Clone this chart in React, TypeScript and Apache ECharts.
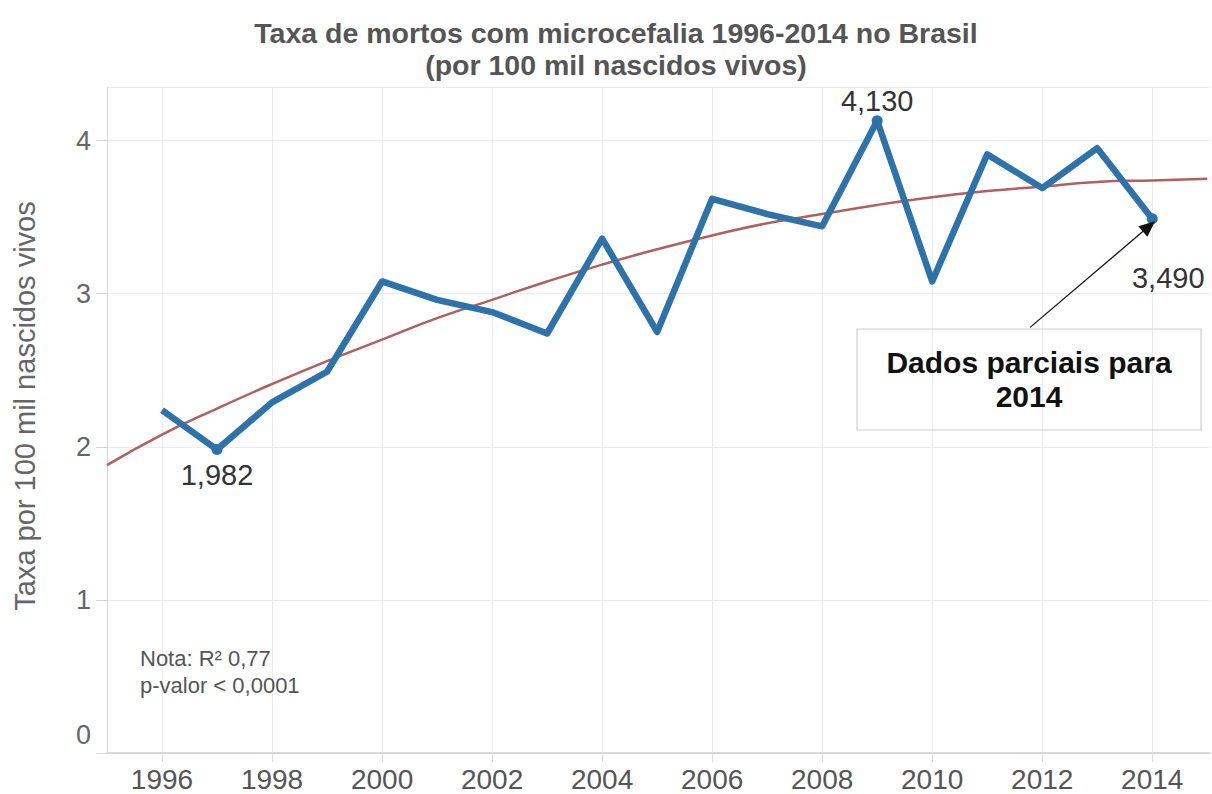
import React, { useEffect, useRef } from "react";
import * as echarts from "echarts";

const years = [1996, 1997, 1998, 1999, 2000, 2001, 2002, 2003, 2004, 2005, 2006, 2007, 2008, 2009, 2010, 2011, 2012, 2013, 2014];
const rates = [2.24, 1.982, 2.29, 2.49, 3.08, 2.96, 2.88, 2.74, 3.36, 2.75, 3.62, 3.52, 3.44, 4.13, 3.08, 3.91, 3.69, 3.95, 3.49];
const labeledYears = [1997, 2009, 2014];

const trendYears = [1995, 1996, 1997, 1998, 1999, 2000, 2001, 2002, 2003, 2004, 2005, 2006, 2007, 2008, 2009, 2010, 2011, 2012, 2013, 2014, 2015];
const trendValues = [1.88, 2.08, 2.25, 2.41, 2.56, 2.70, 2.84, 2.96, 3.08, 3.19, 3.29, 3.38, 3.46, 3.52, 3.58, 3.63, 3.67, 3.70, 3.73, 3.74, 3.75];

const xTickLabels = [1996, 1998, 2000, 2002, 2004, 2006, 2008, 2010, 2012, 2014];

const titleText = "Taxa de mortos com microcefalia 1996-2014 no Brasil\n(por 100 mil nascidos vivos)";
const yAxisName = "Taxa por 100 mil nascidos vivos";
const noteText = "Nota: R\u00b2 0,77\np-valor < 0,0001";
const annotationText = "Dados parciais para\n2014";
const arrowFrom = [2011.78, 2.78];
const arrowTo = [2013.94, 3.44];

const FONT = "Arial, 'Liberation Sans', sans-serif";

export default function App() {
  const ref = useRef<HTMLDivElement>(null);
  useEffect(() => {
    if (!ref.current) return;
    const chart = echarts.init(ref.current, undefined, { renderer: "svg" });
    const labelCfg: Record<number, any> = {
      1997: { position: "bottom", distance: 5, offset: [0, 0] },
      2009: { position: "top", distance: 0, offset: [0, 0] },
      2014: { position: "bottom", distance: 39, offset: [16, 0] },
    };
    const mainData = years.map((y, i) => {
      if (labeledYears.indexOf(y) >= 0) {
        const c = labelCfg[y];
        return {
          value: [y, rates[i]],
          symbol: "circle",
          symbolSize: 11,
          label: {
            show: true,
            position: c.position,
            distance: c.distance,
            offset: c.offset,
            formatter: rates[i].toFixed(3).replace(".", ","),
            fontSize: 29,
            fontFamily: FONT,
            color: "#333",
          },
        };
      }
      return { value: [y, rates[i]], symbol: "none" };
    });
    chart.setOption({
      animation: false,
      backgroundColor: "#fff",
      textStyle: { fontFamily: FONT },
      title: {
        text: titleText,
        left: 611,
        top: 12,
        textAlign: "center",
        textStyle: { fontSize: 28.5, fontWeight: "bold", color: "#555", lineHeight: 32, fontFamily: FONT },
      },
      grid: { left: 107, right: 2, top: 87, bottom: 41, containLabel: false },
      xAxis: {
        type: "value",
        min: 1995,
        max: 2015.05,
        axisLine: { show: true, lineStyle: { color: "#cfcfcf", width: 1.5 } },
        axisTick: { show: true, length: 9, customValues: xTickLabels, lineStyle: { color: "#dcdcdc" } },
        axisLabel: {
          customValues: xTickLabels,
          formatter: (v: number) => String(v),
          fontSize: 28,
          color: "#555",
          margin: 12,
          fontFamily: FONT,
        },
        splitLine: { show: true, lineStyle: { color: "#ececec", width: 1 } },
      },
      yAxis: {
        type: "value",
        min: 0,
        max: 4.35,
        interval: 1,
        name: yAxisName,
        nameLocation: "middle",
        nameGap: 68,
        nameTextStyle: { fontSize: 29, color: "#666", fontFamily: FONT, padding: [0, 0, 0, 28] },
        axisLine: { show: true, lineStyle: { color: "#d5d5d5" } },
        axisTick: { show: true, length: 11, lineStyle: { color: "#d5d5d5" } },
        axisLabel: {
          fontSize: 27,
          color: "#666",
          margin: 16,
          showMaxLabel: false,
          fontFamily: FONT,
          formatter: (v: number) => (v === 0 ? "{z|0}" : String(v)),
          rich: { z: { fontSize: 27, color: "#666", fontFamily: FONT, padding: [0, 0, 36, 0] } },
        },
        splitLine: { show: true, lineStyle: { color: "#ececec", width: 1 } },
      },
      series: [
        {
          type: "line",
          name: "tendencia",
          data: trendYears.map((y, i) => [y, trendValues[i]]),
          smooth: true,
          symbol: "none",
          lineStyle: { color: "#b0605d", width: 2.5 },
          z: 2,
        },
        {
          type: "line",
          name: "taxa",
          data: mainData,
          symbol: "none",
          itemStyle: { color: "#2e72aa" },
          lineStyle: { color: "#2e72aa", width: 6.5, join: "round" },
          z: 3,
          markLine: {
            silent: true,
            symbol: ["none", "triangle"],
            symbolSize: [14, 16],
            label: { show: false },
            lineStyle: { color: "#111", width: 1.3, type: "solid" },
            itemStyle: { color: "#111" },
            data: [[{ coord: arrowFrom }, { coord: arrowTo }]],
          },
        },
      ],
      graphic: [
        {
          type: "rect",
          shape: { x: 857, y: 329, width: 344, height: 101 },
          style: { fill: "rgba(0,0,0,0)", stroke: "#cfcfcf", lineWidth: 1.2 },
          z: 10,
        },
        {
          type: "text",
          x: 1029,
          y: 345,
          style: {
            text: annotationText,
            align: "center",
            fontSize: 30,
            fontWeight: "bold",
            lineHeight: 34,
            fill: "#111",
            fontFamily: FONT,
          },
          z: 11,
        },
        {
          type: "text",
          x: 140,
          y: 645,
          style: { text: noteText, fontSize: 22, lineHeight: 27, fill: "#555", fontFamily: FONT },
          z: 11,
        },
      ],
    });
    return () => chart.dispose();
  }, []);
  return <div ref={ref} style={{ position: "absolute", left: 0, top: 0, width: 1212, height: 794 }} />;
}
